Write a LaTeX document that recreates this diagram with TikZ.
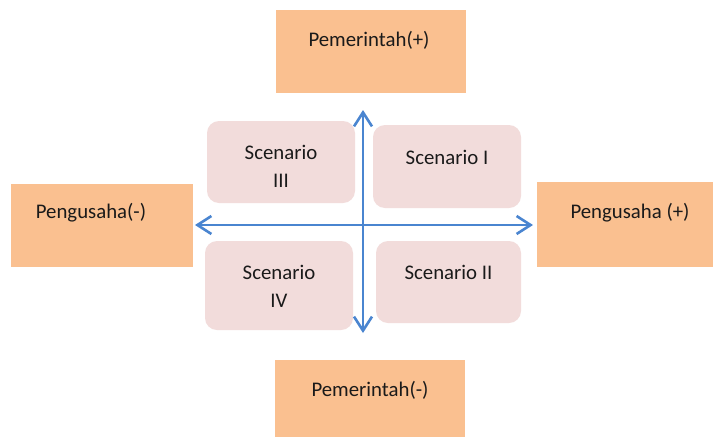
\documentclass[tikz,border=0pt]{standalone}
\usepackage{fontspec}
\setmainfont{Carlito}
\usetikzlibrary{arrows.meta}
\definecolor{actorfill}{HTML}{FAC090}
\definecolor{scenfill}{HTML}{F2DCDB}
\definecolor{axisblue}{HTML}{4A85D0}
\definecolor{inkcol}{HTML}{1A1A1A}
\begin{document}
\begin{tikzpicture}[x=1pt,y=-1pt,
  actor/.style={fill=actorfill, draw=none, inner sep=0pt},
  scen/.style={fill=scenfill, draw=none, rounded corners=12pt, inner sep=0pt},
  lbl/.style={text=inkcol, font=\fontsize{20.8pt}{28pt}\selectfont, align=center},
  axis/.style={draw=axisblue, line width=2.6pt,
    {Straight Barb[length=14pt,width=18pt,line width=2.6pt]}-{Straight Barb[length=14pt,width=18pt,line width=2.6pt]}}]
\useasboundingbox (0,0) rectangle (713,437);
\fill[white] (0,0) rectangle (713,437);

% actor boxes on the four sides
\node[actor, minimum width=190pt, minimum height=83pt,
  label={[lbl, xshift=-1.5pt, yshift=11.5pt]center:Pemerintah(+)}] (govp) at (370.5,51.5) {};
\node[actor, minimum width=182pt, minimum height=83pt,
  label={[lbl, xshift=-11pt, yshift=12pt]center:Pengusaha(-)}] (busm) at (102,225) {};
\node[actor, minimum width=176pt, minimum height=85pt,
  label={[lbl, xshift=5pt, yshift=11.5pt]center:Pengusaha (+)}] (busp) at (625,224.5) {};
\node[actor, minimum width=190pt, minimum height=77pt,
  label={[lbl, yshift=8.5pt]center:Pemerintah(-)}] (govm) at (370,398.5) {};

% scenario quadrants
\node[scen, minimum width=148pt, minimum height=82pt,
  label={[lbl, yshift=-4pt]center:Scenario\\III}] (s3) at (281,162) {};
\node[scen, minimum width=148pt, minimum height=83pt,
  label={[lbl, yshift=9.5pt]center:Scenario I}] (s1) at (447,166.5) {};
\node[scen, minimum width=148pt, minimum height=89pt,
  label={[lbl, yshift=-0.5pt]center:Scenario\\IV}] (s4) at (279,285.5) {};
\node[scen, minimum width=145pt, minimum height=82pt,
  label={[lbl, yshift=10pt]center:Scenario II}] (s2) at (448.5,282) {};

% axes
\coordinate (vtop) at (363,110);
\coordinate (vbot) at (363,333);
\coordinate (hleft) at (195,225);
\coordinate (hright) at (533,225);
\draw[axis] (vtop) -- (vbot);
\draw[axis] (hleft) -- (hright);
\end{tikzpicture}
\end{document}
